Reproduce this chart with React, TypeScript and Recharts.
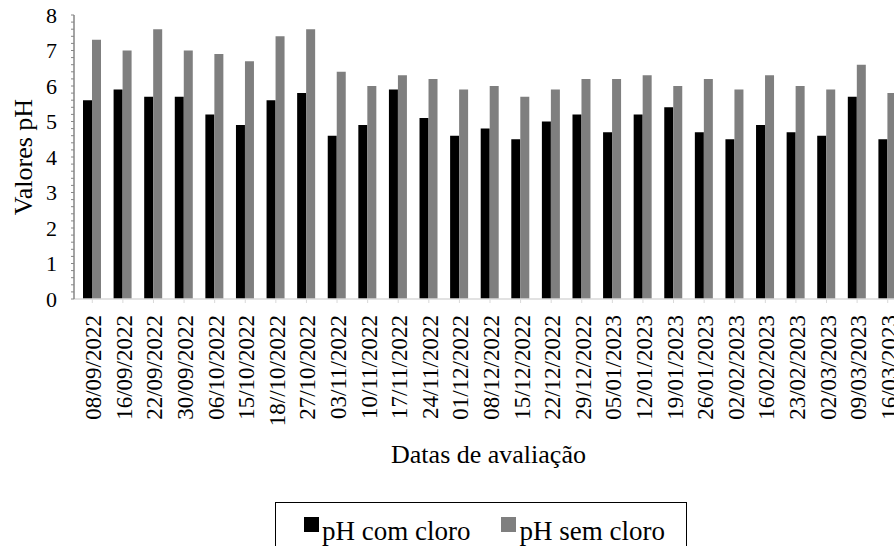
import React from 'react'
import { BarChart, Bar, XAxis, YAxis, Legend, Label } from 'recharts'

const datas = [
  '08/09/2022', '16/09/2022', '22/09/2022', '30/09/2022', '06/10/2022', '15/10/2022',
  '18//10/2022', '27/10/2022', '03/11/2022', '10/11/2022', '17/11/2022', '24/11/2022',
  '01/12/2022', '08/12/2022', '15/12/2022', '22/12/2022', '29/12/2022', '05/01/2023',
  '12/01/2023', '19/01/2023', '26/01/2023', '02/02/2023', '16/02/2023', '23/02/2023',
  '02/03/2023', '09/03/2023', '16/03/2023',
]

const phComCloro = [
  5.6, 5.9, 5.7, 5.7, 5.2, 4.9, 5.6, 5.8, 4.6, 4.9, 5.9, 5.1, 4.6, 4.8,
  4.5, 5.0, 5.2, 4.7, 5.2, 5.4, 4.7, 4.5, 4.9, 4.7, 4.6, 5.7, 4.5,
]

const phSemCloro = [
  7.3, 7.0, 7.6, 7.0, 6.9, 6.7, 7.4, 7.6, 6.4, 6.0, 6.3, 6.2, 5.9, 6.0,
  5.7, 5.9, 6.2, 6.2, 6.3, 6.0, 6.2, 5.9, 6.3, 6.0, 5.9, 6.6, 5.8,
]

// major ticks 0..8, minor every 0.2
const yTicks = Array.from({ length: 41 }, (_, i) => i / 5)

const data = datas.map((d, i) => ({ data: d, com: phComCloro[i], sem: phSemCloro[i] }))

const FONT = 'Liberation Serif'

function DateTick(props: any) {
  const { x, y, payload } = props
  return (
    <g transform={`translate(${x + 9},${y + 10}) rotate(-90)`}>
      <text x={0} y={0} textAnchor="end" fontFamily={FONT} fontSize={23} fill="#000">
        {payload.value}
      </text>
    </g>
  )
}

function LegendBox() {
  const item = (color: string, text: string, ml: number) => (
    <div style={{ display: 'flex', alignItems: 'flex-start', marginLeft: ml }}>
      <div style={{ width: 15, height: 15, background: color, marginTop: 1, marginRight: 3 }} />
      <span>{text}</span>
    </div>
  )
  return (
    <div
      style={{
        boxSizing: 'border-box',
        width: 412,
        height: 70,
        border: '1.5px solid #000',
        display: 'flex',
        paddingTop: 12.5,
        paddingLeft: 28,
        fontFamily: FONT,
        fontSize: 27,
        lineHeight: '30px',
        color: '#000',
      }}
    >
      {item('#000000', 'pH com cloro', 0)}
      {item('#7f7f7f', 'pH sem cloro', 31)}
    </div>
  )
}

export default function App() {
  return (
    <div style={{ position: 'absolute', left: 0, top: 0, width: 894, height: 546, overflow: 'hidden', background: '#fff' }}>
      <BarChart
        width={910}
        height={546}
        data={data}
        margin={{ top: 15, right: 7, left: 0, bottom: 0 }}
        barGap={0}
      >
        <XAxis
          dataKey="data"
          interval={0}
          height={247}
          padding={{ left: 3, right: 0 }}
          axisLine={{ stroke: '#d9d9d9', strokeWidth: 1.5 }}
          tickLine={{ stroke: '#d9d9d9' }}
          tickSize={4}
          tick={<DateTick />}
        >
          <Label
            content={({ viewBox }: any) => (
              <text
                x={viewBox.x + viewBox.width / 2}
                y={viewBox.y + 164}
                textAnchor="middle"
                fontFamily={FONT}
                fontSize={26}
                fill="#000"
              >
                Datas de avaliação
              </text>
            )}
          />
        </XAxis>
        <YAxis
          width={74}
          domain={[0, 8]}
          ticks={yTicks}
          interval={0}
          axisLine={{ stroke: '#868686', strokeWidth: 1.5 }}
          tickLine={{ stroke: '#868686' }}
          tickSize={3}
          tickMargin={14}
          tick={{ fontSize: 22, fill: '#000', fontFamily: FONT }}
          tickFormatter={(v: number) => (Math.abs(v - Math.round(v)) < 1e-6 ? String(Math.round(v)) : '')}
        >
          <Label
            content={({ viewBox }: any) => (
              <text
                transform={`translate(32,${viewBox.y + viewBox.height / 2}) rotate(-90)`}
                textAnchor="middle"
                fontFamily={FONT}
                fontSize={26}
                fill="#000"
              >
                Valores pH
              </text>
            )}
          />
        </YAxis>
        <Legend
          verticalAlign="middle"
          align="center"
          layout="horizontal"
          wrapperStyle={{ top: 502, left: 275, width: 412, bottom: 'auto' }}
          content={() => <LegendBox />}
        />
        <Bar dataKey="com" name="pH com cloro" fill="#000000" barSize={9} isAnimationActive={false} />
        <Bar dataKey="sem" name="pH sem cloro" fill="#7f7f7f" barSize={9} isAnimationActive={false} />
      </BarChart>
    </div>
  )
}
